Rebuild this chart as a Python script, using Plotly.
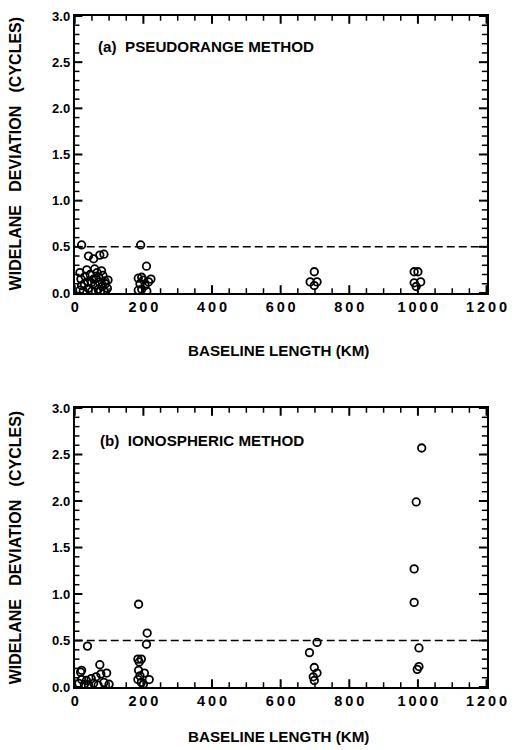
import plotly.graph_objects as go

# (a) pseudorange method: baseline length (km) and widelane deviation (cycles)
pseudo_km = [20, 40, 55, 73, 85,
             15, 18, 20, 15, 30, 35, 38, 40, 45, 50, 55, 58, 60, 65, 68,
             70, 72, 78, 80, 82, 85, 88, 90, 95, 97, 25, 75, 28, 48, 62,
             192, 209, 222, 185, 190, 195, 200, 205, 210, 185, 215, 195,
             698, 686, 706, 698,
             989, 1000, 989, 1008, 995]
pseudo_dev = [0.52, 0.40, 0.37, 0.41, 0.42,
              0.22, 0.15, 0.08, 0.03, 0.18, 0.25, 0.12, 0.05, 0.20, 0.02, 0.15, 0.26, 0.09, 0.22, 0.04,
              0.17, 0.12, 0.24, 0.07, 0.19, 0.02, 0.13, 0.10, 0.05, 0.14, 0.02, 0.02, 0.10, 0.11, 0.16,
              0.52, 0.29, 0.15, 0.16, 0.10, 0.04, 0.14, 0.08, 0.02, 0.03, 0.12, 0.17,
              0.23, 0.12, 0.12, 0.08,
              0.23, 0.23, 0.11, 0.12, 0.07]

# (b) ionospheric method
iono_km = [37, 20, 17, 73, 93, 76, 62, 48, 34, 20, 12, 28, 55, 85, 100, 68, 40,
           186, 211, 209, 184, 194, 188, 186, 203, 217, 184, 194, 200, 190,
           684, 706, 698, 706, 695, 698,
           995, 1011, 989, 989, 1003, 1003, 998]
iono_dev = [0.44, 0.18, 0.16, 0.24, 0.15, 0.14, 0.11, 0.09, 0.07, 0.08, 0.04, 0.03, 0.04, 0.05, 0.03, 0.02, 0.02,
            0.89, 0.58, 0.46, 0.30, 0.30, 0.27, 0.18, 0.15, 0.08, 0.08, 0.05, 0.03, 0.12,
            0.37, 0.48, 0.21, 0.15, 0.11, 0.07,
            1.99, 2.57, 1.27, 0.91, 0.42, 0.22, 0.19]

# 0.5-cycle threshold
limit_km = [0, 1200]
limit_dev = [0.5, 0.5]

x_ticks = [0, 200, 400, 600, 800, 1000, 1200]
y_ticks = [0.0, 0.5, 1.0, 1.5, 2.0, 2.5, 3.0]
x_minor_ticks = [v for v in range(0, 1201, 50) if v % 200]
y_minor_ticks = [v / 10 for v in range(0, 31) if v % 5]

X_MAX, Y_MAX = 1200, 3.0

FONT = "Liberation Sans"
THIN = "\u2009"

W, H = 518, 750

# plot areas in figure pixels
X_LEFT, X_RIGHT = 74.2, 506.0
PANEL_ROWS = {"y": (9.2, 291.8), "y2": (409.2, 693.9)}
plot_w = X_RIGHT - X_LEFT

fig = go.Figure()

MAJOR_LEN, MINOR_LEN = 6.5, 4.0


def tick_traces(xa, ya):
    """Inward tick marks on all four sides of a panel, as line markers on the axis scales."""
    top, bottom = PANEL_ROWS[ya]
    plot_h = bottom - top
    traces = []
    for xvals, yvals, length, width in ((x_ticks, y_ticks, MAJOR_LEN, 2.0),
                                        (x_minor_ticks, y_minor_ticks, MINOR_LEN, 1.5)):
        dy = (length / 2) * Y_MAX / plot_h
        dx = (length / 2) * X_MAX / plot_w
        marker_ns = dict(symbol="line-ns", size=length, color="black",
                         line=dict(width=width, color="black"))
        marker_ew = dict(symbol="line-ew", size=length, color="black",
                         line=dict(width=width, color="black"))
        for yv in (dy, Y_MAX - dy):
            traces.append(go.Scatter(x=xvals, y=[yv] * len(xvals), xaxis=xa, yaxis=ya, mode="markers",
                                     marker=marker_ns, cliponaxis=False, hoverinfo="skip",
                                     showlegend=False))
        for xv in (dx, X_MAX - dx):
            traces.append(go.Scatter(x=[xv] * len(yvals), y=yvals, xaxis=xa, yaxis=ya, mode="markers",
                                     marker=marker_ew, cliponaxis=False, hoverinfo="skip",
                                     showlegend=False))
    return traces


panels = [("x", "y", pseudo_km, pseudo_dev), ("x2", "y2", iono_km, iono_dev)]
for xa, ya, xs, ys in panels:
    for tr in tick_traces(xa, ya):
        fig.add_trace(tr)
    fig.add_trace(go.Scatter(x=limit_km, y=limit_dev, xaxis=xa, yaxis=ya, mode="lines",
                             line=dict(color="black", width=1.6, dash="8px,4px"),
                             hoverinfo="skip", showlegend=False))
    fig.add_trace(go.Scatter(x=xs, y=ys, xaxis=xa, yaxis=ya, mode="markers",
                             marker=dict(symbol="circle-open", size=7.5, color="black",
                                         line=dict(width=1.8, color="black")),
                             showlegend=False))

x_text = ["<b>" + THIN.join(str(v)) + "</b>" for v in x_ticks]
y_text = ["<b>%.1f</b>" % v for v in y_ticks]

xdom = [X_LEFT / W, X_RIGHT / W]
xfont = dict(family=FONT, size=14.5, color="black")
yfont = dict(family=FONT, size=13, color="black")


def x_axis(anchor):
    return dict(domain=xdom, anchor=anchor, range=[0, X_MAX], tickmode="array", tickvals=x_ticks,
                ticktext=x_text, ticks="", showline=True, linewidth=2, linecolor="black", mirror=True,
                showgrid=False, zeroline=False, ticklabeloverflow="allow", tickfont=xfont)


def y_axis(anchor, rows):
    top, bottom = rows
    return dict(domain=[1 - bottom / H, 1 - top / H], anchor=anchor, range=[0, Y_MAX],
                tickmode="array", tickvals=y_ticks, ticktext=y_text, ticks="",
                showline=True, linewidth=2, linecolor="black", mirror=True,
                showgrid=False, zeroline=False, tickfont=yfont)


ann_font = dict(family=FONT, size=15.2, color="black")
title_font = dict(family=FONT, size=16.0, color="black")
SP = "\u00a0\u00a0\u00a0"
y_title = "<b>WIDELANE" + SP + "DEVIATION" + SP + "(CYCLES)</b>"


def note(text, x, y, anchor="left", angle=0, font=ann_font):
    return dict(text=text, x=x / W, y=1 - y / H, xref="paper", yref="paper",
                xanchor=anchor, yanchor="middle", textangle=angle, showarrow=False, font=font)


annotations = [
    note("<b>(a)\u00a0\u00a0PSEUDORANGE METHOD</b>", 96.0, 39.8),
    note("<b>(b)\u00a0\u00a0IONOSPHERIC METHOD</b>", 98.5, 442.6),
    note("<b>BASELINE LENGTH (KM)</b>", 288.0, 350.0, anchor="center"),
    note("<b>BASELINE LENGTH (KM)</b>", 288.0, 744.0, anchor="center"),
    note(y_title, 13.0, 150.0, anchor="center", angle=-90, font=title_font),
    note(y_title, 13.0, 552.0, anchor="center", angle=-90, font=title_font),
]

fig.update_layout(
    width=W, height=H,
    margin=dict(l=0, r=0, t=0, b=0),
    paper_bgcolor="white", plot_bgcolor="white",
    xaxis=x_axis("y"), yaxis=y_axis("x", PANEL_ROWS["y"]),
    xaxis2=x_axis("y2"), yaxis2=y_axis("x2", PANEL_ROWS["y2"]),
    annotations=annotations,
    showlegend=False,
)

fig.write_html("out.html")
